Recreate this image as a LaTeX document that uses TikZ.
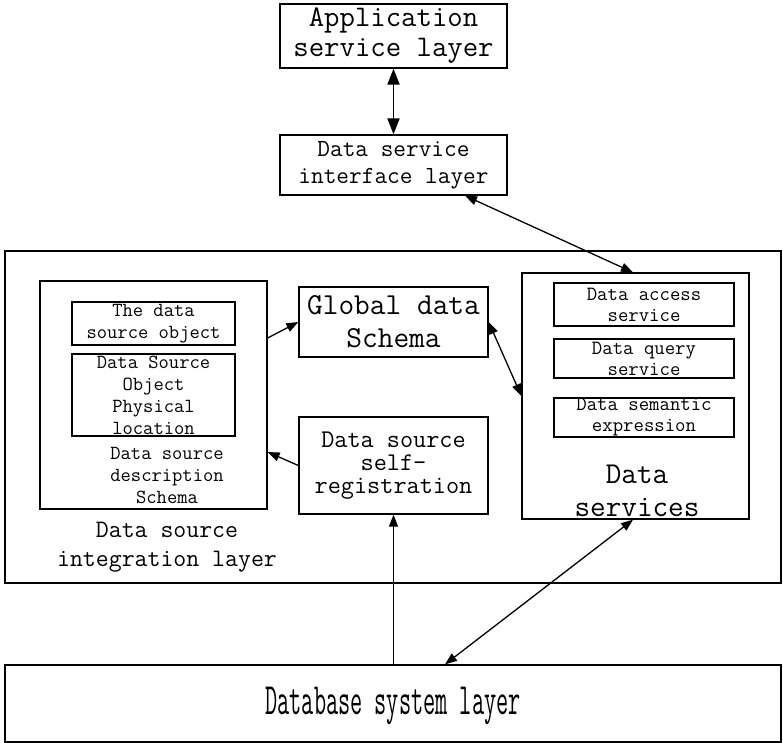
\documentclass[tikz,border=0pt]{standalone}
\usepackage{fontspec}
\usepackage{graphicx}
\setmainfont{Latin Modern Mono}
\usetikzlibrary{arrows.meta}
% font size and baseline distance, both in pt
\newcommand{\fs}[2]{\fontsize{#1pt}{#2pt}\selectfont}
\begin{document}
\begin{tikzpicture}[x=1pt,y=-1pt,
  box/.style={draw, line width=1.3pt, inner sep=0pt, align=center},
  lbl/.style={inner sep=0pt, align=center},
  link/.style={line width=1.3pt, -{Triangle[length=12pt,width=9pt]}},
  dlink/.style={line width=1.3pt, {Triangle[length=12pt,width=9pt]}-{Triangle[length=12pt,width=9pt]}},
  biglink/.style={line width=1.9pt, {Triangle[length=16pt,width=12pt]}-{Triangle[length=16pt,width=12pt]}}]
\useasboundingbox (0,0) rectangle (783,742);

% top layers
\node[box, minimum width=227pt, minimum height=64pt, font=\fs{29.9}{30}] (app) at (393.5,36) {Application\\service layer};
\node[box, minimum width=227pt, minimum height=60pt, font=\fs{24.6}{27}] (dsi) at (393.5,165) {Data service\\interface layer};

% integration layer frame
\node[box, minimum width=776pt, minimum height=332pt] (integ) at (393,417) {};
\node[lbl, font=\fs{25.1}{29}] (integlbl) at (167,547) {Data source\\integration layer};

% data source description schema
\node[box, minimum width=227pt, minimum height=228pt] (dsd) at (153.5,395) {};
\node[box, minimum width=163pt, minimum height=43pt, font=\fs{20}{22}] (dso) at (153.5,323.5) {The data\\source object};
\node[box, minimum width=163pt, minimum height=82pt, font=\fs{20}{22}] (phys) at (153.5,395) {Data Source\\Object\\Physical\\location};
\node[lbl, font=\fs{20}{22}] (dsdlbl) at (167,475) {Data source\\description\\Schema};

% middle column
\node[box, minimum width=189pt, minimum height=70pt, font=\fs{30.5}{33}] (gds) at (393.5,322) {Global data\\Schema};
\node[box, minimum width=189pt, minimum height=97pt, font=\fs{25.5}{23}] (reg) at (393.5,465.5) {Data source\\self-\\registration};

% data services
\node[box, minimum width=227pt, minimum height=246pt] (dsv) at (635.5,396) {};
\node[box, minimum width=180pt, minimum height=43pt, font=\fs{20.2}{21}] (acc) at (644,304.5) {Data access\\service};
\node[box, minimum width=180pt, minimum height=39pt, font=\fs{20.2}{21}] (qry) at (644,358.5) {Data query\\service};
\node[box, minimum width=180pt, minimum height=39pt, font=\fs{20.2}{21}] (sem) at (644,417.5) {Data semantic\\expression};
\node[lbl, font=\fs{30.3}{33}] (dsvlbl) at (637,491) {Data\\services};

% database layer
\node[box, minimum width=776pt, minimum height=77pt] (db) at (393,703.5) {};
\node[lbl, font=\fs{23.6}{26}] (dblbl) at (393,706) {\scalebox{1}[1.9]{Database system layer}};

% connectors
\draw[biglink] (app.south) -- (dsi.north);
\draw[dlink] ([xshift=71.5pt]dsi.south) -- ([xshift=-2.5pt]dsv.north);
\draw[link] ([yshift=57pt]dsd.east) -- (gds.west);
\draw[link] (reg.west) -- ([yshift=-57pt]dsd.east);
\draw[dlink] (gds.east) -- (dsv.west);
\draw[link] (reg.south |- db.north) -- (reg.south);
\draw[dlink] ([xshift=52pt]db.north) -- ([xshift=-2.5pt]dsv.south);
\end{tikzpicture}
\end{document}
